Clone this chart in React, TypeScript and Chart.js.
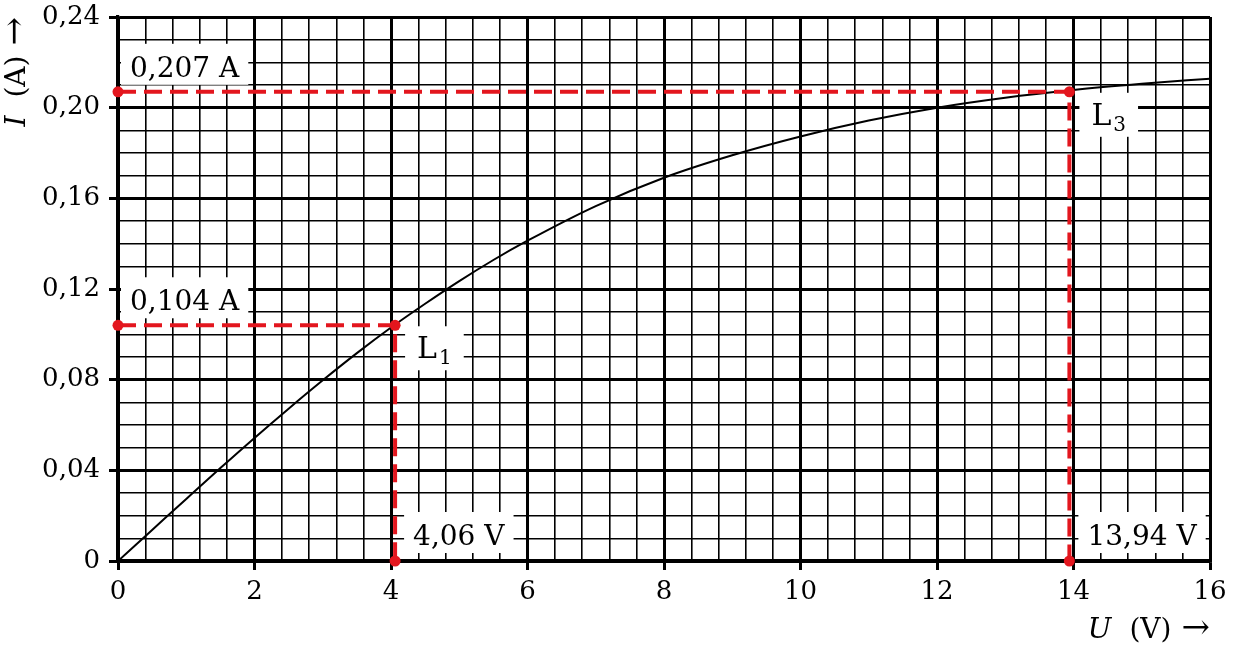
import React, { useEffect, useRef } from 'react';
import { Chart, registerables } from 'chart.js';

Chart.register(...registerables);

// ---- data ----
const uValues = [0, 0.5, 1, 1.5, 2, 2.5, 3, 3.5, 4, 4.5, 5, 5.5, 6, 7, 8, 9, 10, 11, 12, 13, 14, 15, 16];
const iValues = [0, 0.0137, 0.0274, 0.041, 0.0543, 0.0672, 0.0797, 0.0917, 0.103, 0.1135, 0.1235, 0.1328, 0.1413, 0.1566, 0.1691, 0.179, 0.1873, 0.1943, 0.2, 0.2044, 0.2078, 0.2105, 0.2128];

const markerU = [4.06, 13.94];
const markerI = [0.104, 0.207];
const markerNames = ['L', 'L'];
const markerSubs = ['1', '3'];
const uLabels = ['4,06 V', '13,94 V'];
const iLabels = ['0,104 A', '0,207 A'];

const xTickLabels = ['0', '2', '4', '6', '8', '10', '12', '14', '16'];
const yTickLabels = ['0', '0,04', '0,08', '0,12', '0,16', '0,20', '0,24'];
const xMajorStep = 2;
const xMinorStep = 0.4;
const yMajorStep = 0.04;
const yMinorStep = 0.01;

const FONT = '"DejaVu Serif", serif';
const RED = '#e3161e';

const isMajorX = (v: number) => Math.abs(v / xMajorStep - Math.round(v / xMajorStep)) < 1e-6;
const isMajorY = (v: number) => Math.abs(v / yMajorStep - Math.round(v / yMajorStep)) < 1e-6;

function boxText(ctx: CanvasRenderingContext2D, text: string, tx: number, by: number) {
  ctx.font = `28px ${FONT}`;
  const w = ctx.measureText(text).width;
  ctx.fillStyle = '#fff';
  ctx.fillRect(tx - 9, by - 33, w + 18, 41);
  ctx.fillStyle = '#000';
  ctx.textAlign = 'left';
  ctx.textBaseline = 'alphabetic';
  ctx.fillText(text, tx, by);
}

function subText(ctx: CanvasRenderingContext2D, main: string, sub: string, tx: number, by: number) {
  ctx.font = `30px ${FONT}`;
  const w1 = ctx.measureText(main).width;
  ctx.font = `20px ${FONT}`;
  const w2 = ctx.measureText(sub).width;
  ctx.fillStyle = '#fff';
  ctx.fillRect(tx - 12, by - 32, w1 + w2 + 26, 44);
  ctx.fillStyle = '#000';
  ctx.textAlign = 'left';
  ctx.textBaseline = 'alphabetic';
  ctx.font = `30px ${FONT}`;
  ctx.fillText(main, tx, by);
  ctx.font = `20px ${FONT}`;
  ctx.fillText(sub, tx + w1 + 2, by + 6);
}

// pieces drawn right-aligned ending at `end` along local x axis
function titlePieces(ctx: CanvasRenderingContext2D, varName: string, unit: string, end: number, base: number) {
  ctx.fillStyle = '#000';
  ctx.textBaseline = 'alphabetic';
  ctx.textAlign = 'right';
  ctx.font = `34px ${FONT}`;
  const arrow = '\u2192';
  const wa = ctx.measureText(arrow).width;
  ctx.fillText(arrow, end, base);
  ctx.font = `28px ${FONT}`;
  const unitEnd = end - wa - 10;
  ctx.fillText(unit, unitEnd, base);
  const wu = ctx.measureText(unit).width;
  ctx.font = `italic 28px ${FONT}`;
  ctx.fillText(varName, unitEnd - wu - 18, base);
}

const overlayPlugin = {
  id: 'overlay',
  beforeDatasetsDraw(chart: any) {
    const { ctx, scales } = chart;
    const xs = scales.x;
    const ys = scales.y;
    ctx.save();
    const x0 = xs.getPixelForValue(0);
    const y0 = ys.getPixelForValue(0);
    markerU.forEach((u, k) => {
      const px = xs.getPixelForValue(u);
      const py = ys.getPixelForValue(markerI[k]);
      boxText(ctx, iLabels[k], x0 + 12, py - 15);
      boxText(ctx, uLabels[k], px + 18, y0 - 16);
      subText(ctx, markerNames[k], markerSubs[k], px + 22, py + 33);
    });
    ctx.restore();
  },
  afterDraw(chart: any) {
    const { ctx, chartArea } = chart;
    ctx.save();
    titlePieces(ctx, 'U', '(V)', chartArea.right, 638);
    ctx.translate(25, 0);
    ctx.rotate(-Math.PI / 2);
    titlePieces(ctx, 'I', '(A)', -chartArea.top, 0);
    ctx.restore();
  },
};

export default function App() {
  const canvasRef = useRef<HTMLCanvasElement | null>(null);

  useEffect(() => {
    if (!canvasRef.current) return;
    const dashed = markerU.map((u, k) => ({
      type: 'line' as const,
      data: [
        { x: 0, y: markerI[k] },
        { x: u, y: markerI[k] },
        { x: u, y: 0 },
      ],
      borderColor: RED,
      backgroundColor: RED,
      borderWidth: 4,
      borderDash: [18, 8],
      pointRadius: 5.5,
      pointBorderWidth: 0,
      pointBackgroundColor: RED,
      tension: 0,
      clip: false as any,
      order: 0,
    }));
    const chart = new Chart(canvasRef.current, {
      type: 'line',
      data: {
        datasets: [
          ...dashed,
          {
            type: 'line',
            data: uValues.map((u, k) => ({ x: u, y: iValues[k] })),
            borderColor: '#000',
            borderWidth: 2,
            pointRadius: 0,
            cubicInterpolationMode: 'monotone',
            order: 1,
          },
        ] as any,
      },
      options: {
        animation: false,
        responsive: true,
        maintainAspectRatio: false,
        layout: { padding: { left: 0, right: 31, top: 17, bottom: 0 } },
        plugins: { legend: { display: false }, tooltip: { enabled: false } },
        scales: {
          x: {
            type: 'linear',
            min: 0,
            max: 16,
            afterFit: (s: any) => {
              s.height = 84;
              s.paddingLeft = 0;
              s.paddingRight = 0;
            },
            ticks: {
              stepSize: xMinorStep,
              autoSkip: false,
              maxRotation: 0,
              maxTicksLimit: 200,
              padding: 7,
              color: '#000',
              font: { family: FONT, size: 26 },
              callback: (v: any) => (isMajorX(Number(v)) ? xTickLabels[Math.round(Number(v) / xMajorStep)] : ''),
            },
            grid: {
              color: '#000',
              lineWidth: (c: any) => (c.tick && isMajorX(c.tick.value) ? 3 : 1.6),
              tickColor: (c: any) => (c.tick && isMajorX(c.tick.value) ? '#000' : 'rgba(0,0,0,0)'),
              tickWidth: 3,
              tickLength: 9,
            },
            border: { display: true, color: '#000', width: 3.2 },
          },
          y: {
            type: 'linear',
            min: 0,
            max: 0.24,
            afterFit: (s: any) => {
              s.width = 118;
              s.paddingTop = 0;
              s.paddingBottom = 0;
            },
            ticks: {
              stepSize: yMinorStep,
              autoSkip: false,
              maxTicksLimit: 200,
              padding: 9,
              color: '#000',
              font: { family: FONT, size: 26 },
              callback: (v: any) => (isMajorY(Number(v)) ? yTickLabels[Math.round(Number(v) / yMajorStep)] : ''),
            },
            grid: {
              color: '#000',
              lineWidth: (c: any) => (c.tick && isMajorY(c.tick.value) ? 3 : 1.6),
              tickColor: (c: any) => (c.tick && isMajorY(c.tick.value) ? '#000' : 'rgba(0,0,0,0)'),
              tickWidth: 3,
              tickLength: 9,
            },
            border: { display: true, color: '#000', width: 3.2 },
          },
        },
      } as any,
      plugins: [overlayPlugin],
    });
    return () => chart.destroy();
  }, []);

  return (
    <div style={{ position: 'fixed', left: 0, top: 0, width: 1241, height: 645, background: '#fff' }}>
      <canvas ref={canvasRef} />
    </div>
  );
}
